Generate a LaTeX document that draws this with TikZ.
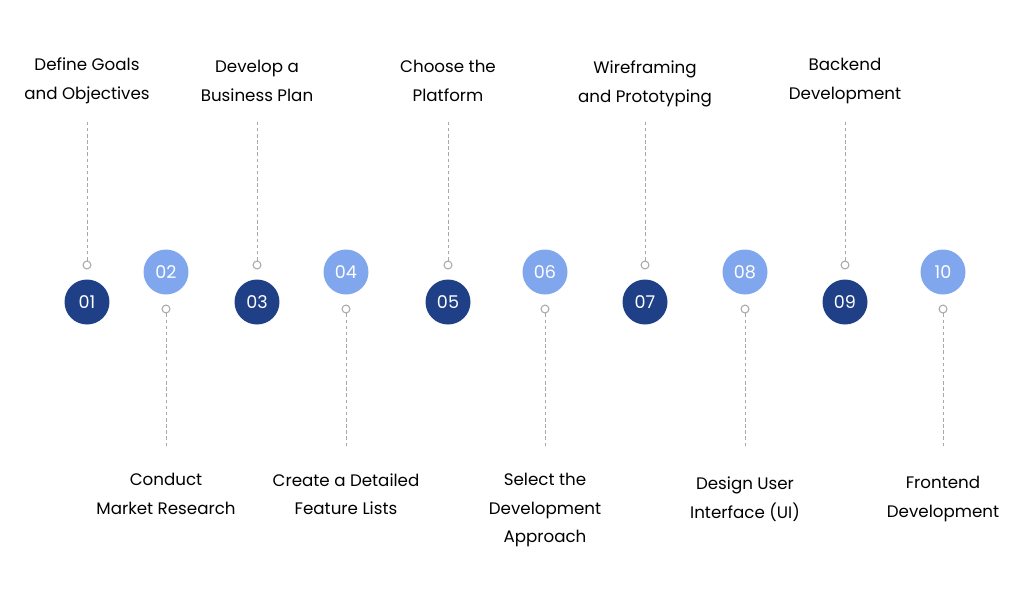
\documentclass[tikz,border=0pt]{standalone}
\usepackage{fontspec}
\setmainfont{Poppins}
\definecolor{stepdark}{HTML}{1F3F86}
\definecolor{steplight}{HTML}{80A6EE}
\definecolor{stepline}{HTML}{A8A8A8}
\begin{document}
\begin{tikzpicture}[x=0.02cm,y=-0.02cm,
  darkdot/.style={circle,fill=stepdark,minimum size=0.9cm,inner sep=0pt,text=white,font=\fontsize{10}{12}\selectfont},
  lightdot/.style={circle,fill=steplight,minimum size=0.9cm,inner sep=0pt,text=white,font=\fontsize{10}{12}\selectfont},
  pin/.style={circle,draw=stepline,fill=white,line width=0.6pt,minimum size=4.5pt,inner sep=0pt},
  guide/.style={stepline,dashed,dash pattern=on 2pt off 1.5pt,line width=0.5pt},
  steptext/.style={align=center,text=black,font=\fontsize{9.5}{16.2}\selectfont}]
\useasboundingbox (0,0) rectangle (1024,589);
% top row steps
\foreach \n/\x/\t/\ty in {01/87/{Define Goals\\and Objectives}/81,
    03/257/{Develop a\\Business Plan}/81,
    05/448/{Choose the\\Platform}/81,
    07/645/{Wireframing\\and Prototyping}/84,
    09/845/{Backend\\Development}/81}{
  \node[darkdot] (c\n) at (\x,302) {\n};
  \node[pin] (p\n) at (\x,265) {};
  \coordinate (e\n) at (\x,122);
  \draw[guide] (p\n) -- (e\n);
  \node[steptext] (t\n) at (\x,\ty) {\t};
}
% bottom row steps
\foreach \n/\x/\t/\ty in {02/166/{Conduct\\Market Research}/494,
    04/346/{Create a Detailed\\Feature Lists}/494,
    06/545/{Select the\\Development\\Approach}/510,
    08/745/{Design User\\Interface (UI)}/499,
    10/943/{Frontend\\Development}/499}{
  \node[lightdot] (c\n) at (\x,272) {\n};
  \node[pin] (p\n) at (\x,309) {};
  \coordinate (e\n) at (\x,446);
  \draw[guide] (p\n) -- (e\n);
  \node[steptext] (t\n) at (\x,\ty) {\t};
}
\end{tikzpicture}
\end{document}
